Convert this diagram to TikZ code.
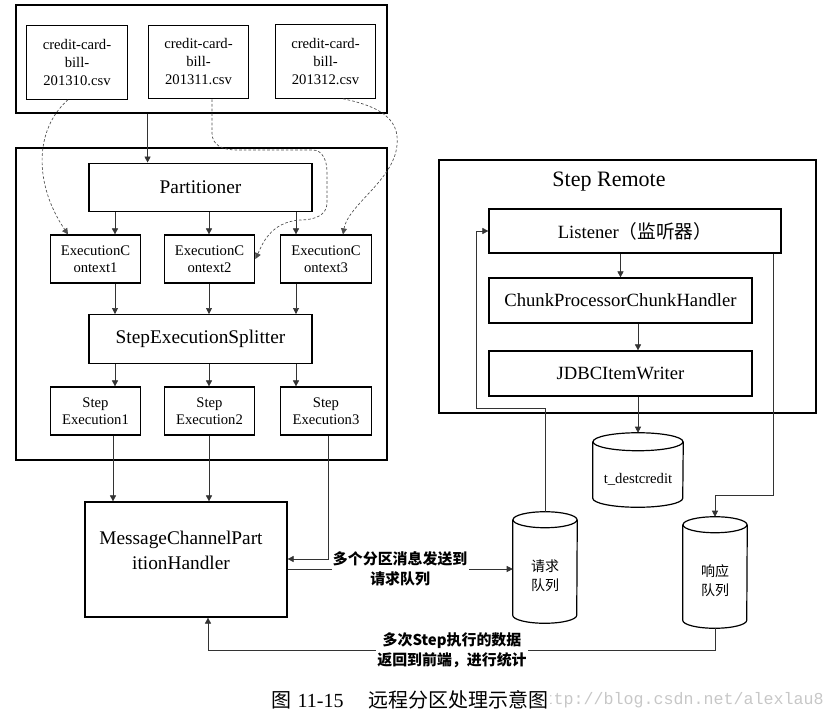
\documentclass[tikz,border=0pt]{standalone}
\usepackage{fontspec}
\setmainfont{Liberation Serif}
\newfontfamily\cjk{Noto Sans CJK SC}
\newfontfamily\wmfont{Liberation Mono}
\usetikzlibrary{arrows.meta,fit,calc}
\begin{document}
\begin{tikzpicture}[x=0.75pt,y=-0.75pt,
  box/.style={draw, line width=0.9pt, inner sep=0pt, align=center},
  cylbody/.style={draw=none, inner sep=0pt, align=center},
  cylline/.style={draw, line width=0.9pt},
  arr/.style={draw=black!80, line width=0.5pt, -{Triangle[length=4.5pt,width=4.5pt]}},
  dsh/.style={draw=black!70, line width=0.5pt, dash pattern=on 2pt off 1.5pt, -{Triangle[length=4.5pt,width=4.5pt]}},
  fa/.style={font=\fontsize{11}{13.5}\selectfont},
  fe/.style={font=\fontsize{11}{12.75}\selectfont},
  fb/.style={font=\fontsize{14.5}{18.75}\selectfont},
  fc/.style={font=\fontsize{14}{17}\selectfont},
  fq/.style={font=\cjk\fontsize{10.5}{14.5}\selectfont},
  lab/.style={fill=white, inner xsep=1pt, inner ysep=1pt, align=center, font=\cjk\bfseries\fontsize{11.2}{15}\selectfont},
  filebox/.style={box, fa, minimum width=75.5pt, minimum height=55pt},
  ecbox/.style={box, fe, minimum width=68pt, minimum height=36pt},
  widebox/.style={box, fb, minimum width=167.25pt, minimum height=36.5pt},
]
\useasboundingbox (0,0) rectangle (832,718);

% ---- top: files ----
\node[box, fit={(16,5) (387,113)}] (topbox) {};
\node[filebox] (f1) at (77,62.5) {credit-card-\\bill-\\201310.csv};
\node[filebox] (f2) at (198.5,62) {credit-card-\\bill-\\201311.csv};
\node[filebox] (f3) at (325.5,61.5) {credit-card-\\bill-\\201312.csv};

% ---- partition box ----
\node[box, fit={(16,148) (387,460)}] (partbox) {};
\node[widebox] (part) at (200.5,187.5) {Partitioner};
\node[ecbox] (ec1) at (95.5,259) {ExecutionC\\ontext1};
\node[ecbox] (ec2) at (209.5,259) {ExecutionC\\ontext2};
\node[ecbox] (ec3) at (326,259) {ExecutionC\\ontext3};
\node[widebox] (split) at (200.5,339) {StepExecutionSplitter};
\node[ecbox] (se1) at (95.5,411) {Step\\Execution1};
\node[ecbox] (se2) at (209.5,411) {Step\\Execution2};
\node[ecbox] (se3) at (326,411) {Step\\Execution3};

% ---- handler ----
\node[box, fit={(85,502) (287,617)}] (mcph) {};
\node[fb, align=center, inner sep=0pt] (mcpht) at (181,550) {MessageChannelPart\\itionHandler};

% ---- Step Remote ----
\node[box, fit={(439,160) (816,413)}] (remote) {};
\node[font=\fontsize{16.5}{20}\selectfont, inner sep=0pt] (remtitle) at (609,182) {Step Remote};
\node[box, fc, minimum width=219pt, minimum height=33pt] (listener) at (635,231) {Listener{\cjk （监听器）}};
\node[box, fc, minimum width=197.25pt, minimum height=33.75pt] (chunk) at (620.5,300.5) {ChunkProcessorChunkHandler};
\node[box, fc, minimum width=197.25pt, minimum height=33.75pt] (jdbc) at (620.5,373.5) {JDBCItemWriter};

% ---- cylinders ----
\node[cylbody, fa, minimum width=67.5pt, minimum height=42pt] (td) at (638,479) {t\_destcredit};
\draw[cylline] ([yshift=6.75pt]td.north west) -- ([yshift=6.75pt]td.south west)
   arc[start angle=180, end angle=360, x radius=33.75pt, y radius=6.75pt]
   -- ([yshift=6.75pt]td.north east);
\draw[cylline] ([yshift=6.75pt]td.north) ellipse[x radius=33.75pt, y radius=6.75pt];
\coordinate (tdtop) at ([yshift=13.5pt]td.north);

\node[cylbody, fq, minimum width=48pt, minimum height=71.25pt] (req) at (545,575.5) {请求\\队列};
\draw[cylline] ([yshift=6pt]req.north west) -- ([yshift=6pt]req.south west)
   arc[start angle=180, end angle=360, x radius=24pt, y radius=6pt]
   -- ([yshift=6pt]req.north east);
\draw[cylline] ([yshift=6pt]req.north) ellipse[x radius=24pt, y radius=6pt];
\coordinate (reqtop) at ([yshift=12pt]req.north);

\node[cylbody, fq, minimum width=48pt, minimum height=71.25pt] (resp) at (715,580.5) {响应\\队列};
\draw[cylline] ([yshift=6pt]resp.north west) -- ([yshift=6pt]resp.south west)
   arc[start angle=180, end angle=360, x radius=24pt, y radius=6pt]
   -- ([yshift=6pt]resp.north east);
\draw[cylline] ([yshift=6pt]resp.north) ellipse[x radius=24pt, y radius=6pt];
\coordinate (resptop) at ([yshift=12pt]resp.north);

% ---- helper coordinates ----
\coordinate (c1) at (115,0);
\coordinate (c2) at (209,0);
\coordinate (c3) at (296,0);
\coordinate (d1) at (113,0);
\coordinate (d3) at (328,0);
\coordinate (mx) at (208,0);
\coordinate (inY) at (0,559);
\coordinate (outY) at (0,569);
\coordinate (botY) at (0,650);
\coordinate (lx) at (476,408);
\coordinate (rx) at (773,495);

% ---- connectors ----
\draw[arr] (topbox.south -| f2.west) -- (part.north -| f2.west);
\foreach \c/\e/\s in {c1/ec1/se1, c2/ec2/se2, c3/ec3/se3}{
  \draw[arr] (part.south -| \c) -- (\e.north -| \c);
  \draw[arr] (\e.south -| \c) -- (split.north -| \c);
  \draw[arr] (split.south -| \c) -- (\s.north -| \c);
}
\draw[arr] (se1.south -| d1) -- (mcph.north -| d1);
\draw[arr] (se2.south -| c2) -- (mcph.north -| c2);
\draw[arr] (se3.south -| d3) |- (mcph.east |- inY);
\draw[arr] (mcph.east |- outY) -- (req.west |- outY);
\node[lab] (l1) at ($(mcph.east |- outY)!0.5!(req.west |- outY)$) {多个分区消息发送到\\请求队列};

\draw[arr] (listener.south -| chunk.north) -- (chunk.north);
\draw[arr] (chunk.south -| td.north) -- (jdbc.north -| td.north);
\draw[arr] (jdbc.south -| td.north) -- (tdtop);

\draw[arr] (reqtop) |- (lx) |- (listener.west);
\draw[arr] (listener.south -| rx) -- (rx) -| (resptop);
\draw[arr] (resp.south) |- (mx |- botY) -- (mcph.south -| mx);
\node[lab] (l2) at (452,650) {多次Step执行的数据\\返回到前端，进行统计};

% ---- dashed flows ----
\draw[dsh] ([xshift=-6.75pt]f1.south) .. controls +(-34,30) and +(-34,-50) .. ([xshift=-20.6pt]ec1.north);
\draw[dsh] ([xshift=10.1pt]f2.south) -- (212,133) .. controls (212,145) and (222,150) .. (237,150)
   -- (313,150) .. controls (322,150) and (327,160) .. (327,172) -- (327,203)
   .. controls (327,215) and (315,220) .. (300,220)
   .. controls (270,222) and (262,245) .. (ec2.east);
\draw[dsh] ([xshift=13.1pt]f3.south) .. controls (378,106) and (400,118) .. (397,145)
   .. controls (394,180) and (348,205) .. ([xshift=12.75pt]ec3.north);

% ---- caption and watermark ----
\node[anchor=east, text=black!22, font=\wmfont\fontsize{12.5}{14}\selectfont, inner sep=0pt] (wm) at (824,700) {http://blog.csdn.net/alexlau8};
\node[anchor=west, fill=white, inner sep=1pt, font=\fontsize{15}{18}\selectfont] (cap) at (270,700) {{\cjk 图}\hspace{4.5pt}11-15\hspace{19pt}{\cjk 远程分区处理示意图}};
\end{tikzpicture}
\end{document}
